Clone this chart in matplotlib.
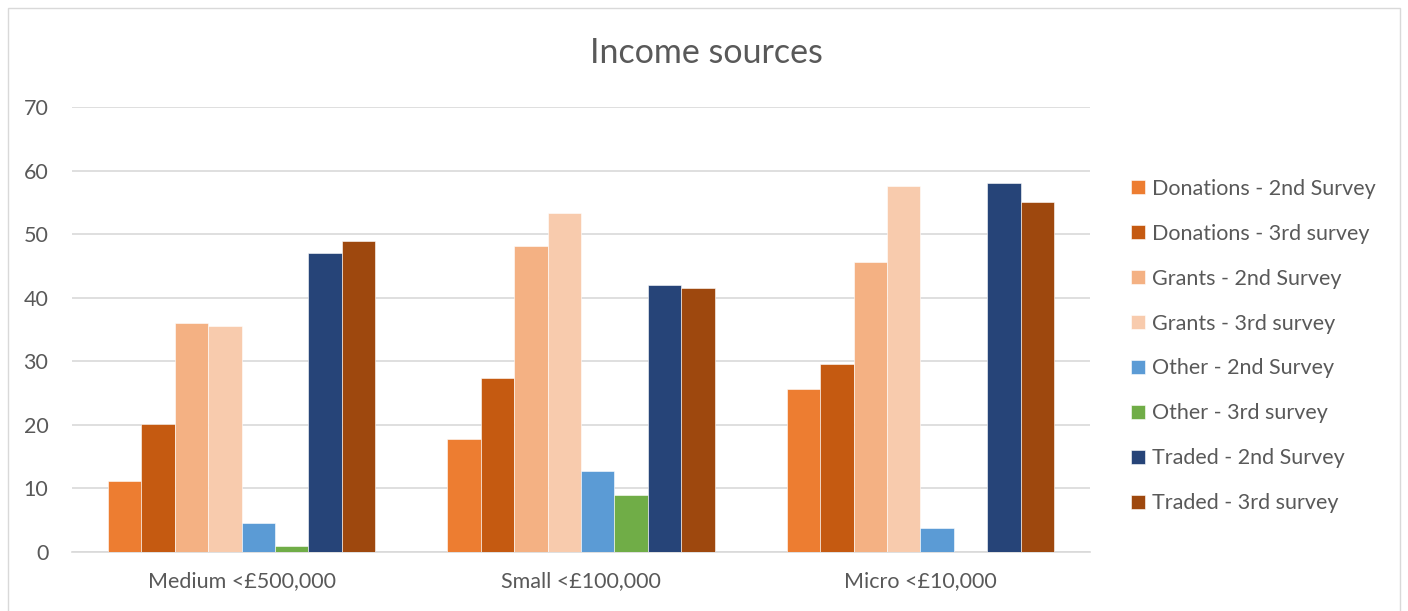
import numpy as np
import matplotlib.pyplot as plt
from matplotlib.patches import Rectangle

plt.rcParams['font.family'] = ['Lato', 'DejaVu Sans']

categories = ['Medium <£500,000', 'Small <£100,000', 'Micro <£10,000']
series = ['Donations - 2nd Survey', 'Donations - 3rd survey',
          'Grants - 2nd Survey', 'Grants - 3rd survey',
          'Other - 2nd Survey', 'Other - 3rd survey',
          'Traded - 2nd Survey', 'Traded - 3rd survey']
donations_2nd = [11.2, 17.7, 25.7]
donations_3rd = [20.1, 27.4, 29.5]
grants_2nd = [36.0, 48.1, 45.6]
grants_3rd = [35.6, 53.3, 57.5]
other_2nd = [4.6, 12.7, 3.8]
other_3rd = [0.9, 8.9, 0.0]
traded_2nd = [47.0, 42.0, 58.1]
traded_3rd = [48.9, 41.5, 55.0]
values = [donations_2nd, donations_3rd, grants_2nd, grants_3rd,
          other_2nd, other_3rd, traded_2nd, traded_3rd]
colors = ['#ED7D31', '#C55A11', '#F4B183', '#F8CBAD',
          '#5B9BD5', '#70AD47', '#264478', '#9E480E']

fig = plt.figure(figsize=(14.08, 6.11), dpi=100)
ax = fig.add_axes([72 / 1408, 1 - 552 / 611, (1090 - 72) / 1408, (552 - 107) / 611])

# chart area border
fig.patches.append(Rectangle((8 / 1408, -0.01), (1400 - 8) / 1408, 1 - 8 / 611 + 0.01,
                             transform=fig.transFigure, fill=False,
                             edgecolor='#D9D9D9', linewidth=1))

x = np.arange(len(categories))
width = 1 / 10.16
for i, (name, vals, c) in enumerate(zip(series, values, colors)):
    ax.bar(x + (i - 3.5) * width, vals, width, color=c, label=name,
           edgecolor='white', linewidth=0.4, zorder=3)

ax.set_xlim(-0.5, 2.5)
ax.set_ylim(0, 70)
ax.set_yticks(range(0, 71, 10))
ax.set_xticks(x)
ax.set_xticklabels(categories)
ax.grid(axis='y', color='#D9D9D9', linewidth=1.2, zorder=0)
for s in ['top', 'right', 'left']:
    ax.spines[s].set_visible(False)
ax.spines['bottom'].set_color('#D9D9D9')
ax.spines['bottom'].set_linewidth(1.2)
ax.tick_params(axis='both', length=0, labelsize=15.5, colors='#595959')
ax.tick_params(axis='y', pad=17)
ax.tick_params(axis='x', pad=14)

fig.text(706 / 1408, 1 - 53 / 611, 'Income sources', ha='center', va='center',
         fontsize=24.5, color='#595959')

ax.legend(loc='center left', bbox_to_anchor=(1112 / 1408, 1 - 346 / 611),
          bbox_transform=fig.transFigure, frameon=False, fontsize=15.5,
          labelcolor='#595959', handlelength=0.65, handleheight=0.65,
          handletextpad=0.3, labelspacing=1.16)

fig.savefig('out.png', dpi=100)
